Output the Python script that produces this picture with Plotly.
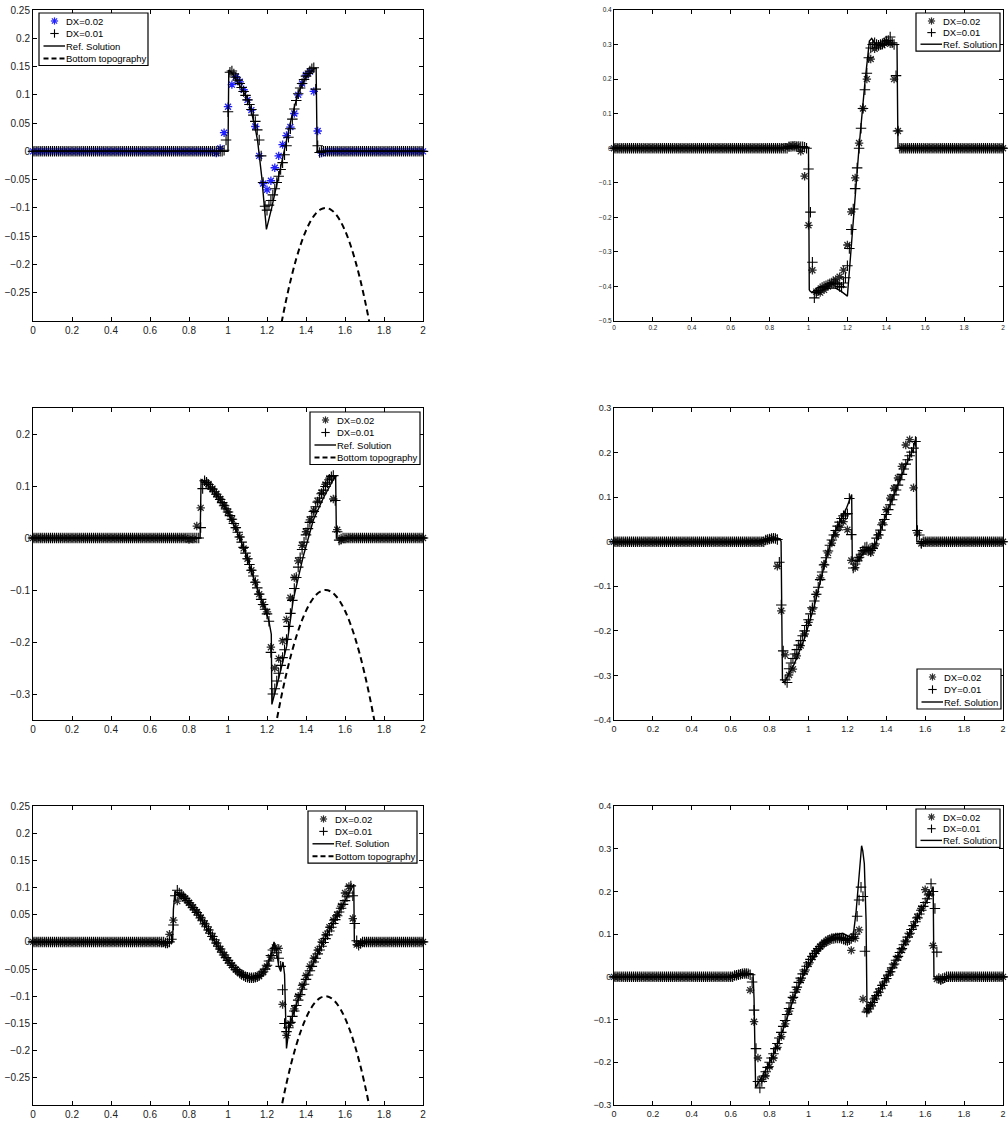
import numpy as np
import plotly.graph_objects as go

FONT = "Liberation Sans, Arial, Helvetica, sans-serif"

# ---------------- common axis data ----------------
X_TICKS = [0, 0.2, 0.4, 0.6, 0.8, 1.0, 1.2, 1.4, 1.6, 1.8, 2.0]
X_TICKTEXT = ["0", "0.2", "0.4", "0.6", "0.8", "1", "1.2", "1.4", "1.6", "1.8", "2"]

GRID_02 = np.linspace(0, 2, 101)   # DX = 0.02 sample points
GRID_01 = np.linspace(0, 2, 201)   # DX = 0.01 sample points

# bottom topography
TOPO_X = [1.2, 1.225, 1.25, 1.275, 1.3, 1.325, 1.35, 1.375, 1.4, 1.425, 1.45, 1.475, 1.5,
          1.525, 1.55, 1.575, 1.6, 1.625, 1.65, 1.675, 1.7, 1.725, 1.75, 1.775, 1.8]
TOPO_Y = [-0.46, -0.4025, -0.35, -0.3025, -0.26, -0.2225, -0.19, -0.1625, -0.14, -0.1225, -0.11, -0.1025, -0.1,
          -0.1025, -0.11, -0.1225, -0.14, -0.1625, -0.19, -0.2225, -0.26, -0.3025, -0.35, -0.4025, -0.46]

# ---------------- panel 1 ----------------
P1_DX02_START = 0.94
P1_DX02 = [-0.003, 0.005, 0.033, 0.079, 0.118, 0.132, 0.123, 0.109, 0.091, 0.073,
           0.044, -0.008, -0.057, -0.068, -0.052, -0.029, -0.008, 0.012, 0.028, 0.043,
           0.067, 0.100, 0.120, 0.135, 0.141, 0.106, 0.036, -0.003]
P1_DX01_START = 0.98
P1_DX01 = [0.002, 0.020, 0.070, 0.140, 0.142, 0.137, 0.131, 0.126, 0.120, 0.113,
           0.106, 0.099, 0.091, 0.083, 0.074, 0.064, 0.053, 0.038, 0.020, -0.008,
           -0.055, -0.097, -0.104, -0.095, -0.087, -0.077, -0.066, -0.055, -0.044, -0.032,
           -0.020, -0.006, 0.010, 0.025, 0.040, 0.057, 0.075, 0.090, 0.102, 0.112,
           0.120, 0.127, 0.133, 0.138, 0.142, 0.146, 0.148, 0.110, 0.010, -0.002]
P1_REF_X = [0.0, 1.0, 1.004, 1.02, 1.053, 1.08, 1.104, 1.12, 1.138, 1.152, 1.164, 1.173, 1.18, 1.188,
            1.197, 1.224, 1.258, 1.292, 1.326, 1.36, 1.395, 1.42, 1.446, 1.452, 1.457, 2.0]
P1_REF_Y = [0.0, 0.0, 0.144, 0.139, 0.12, 0.105, 0.091, 0.07, 0.044, 0.018, -0.015, -0.045, -0.073, -0.1,
            -0.138, -0.1, -0.045, 0.005, 0.06, 0.103, 0.129, 0.139, 0.147, 0.147, 0.0, 0.0]

# ---------------- panel 2 ----------------
P2_DX02_START = 0.88
P2_DX02 = [0.003, 0.005, 0.006, 0.005, -0.009, -0.081, -0.223, -0.353, -0.415, -0.418,
           -0.410, -0.400, -0.390, -0.380, -0.372, -0.353, -0.280, -0.184, -0.086, 0.015,
           0.115, 0.200, 0.258, 0.288, 0.295, 0.298, 0.310, 0.302, 0.200, 0.050,
           0.0]
P2_DX01_START = 0.90
P2_DX01 = [0.004, 0.005, 0.006, 0.006, 0.005, 0.005, 0.004, 0.004, 0.003, 0.000,
           -0.060, -0.185, -0.330, -0.433, -0.418, -0.412, -0.407, -0.403, -0.400, -0.398,
           -0.395, -0.392, -0.390, -0.390, -0.392, -0.395, -0.400, -0.402, -0.390, -0.375,
           -0.340, -0.290, -0.235, -0.176, -0.117, -0.057, 0.000, 0.058, 0.115, 0.169,
           0.217, 0.262, 0.290, 0.300, 0.305, 0.300, 0.298, 0.300, 0.302, 0.305,
           0.310, 0.312, 0.322, 0.305, 0.300, 0.210, 0.050, 0.000]
P2_REF_X = [0.0, 0.9, 0.95, 0.995, 1.0, 1.004, 1.01, 1.03, 1.06, 1.1, 1.14, 1.17, 1.2, 1.23,
            1.261, 1.29, 1.313, 1.325, 1.34, 1.36, 1.4, 1.455, 1.46, 2.0]
P2_REF_Y = [0.0, 0.0, 0.003, 0.004, 0.0, -0.41, -0.415, -0.417, -0.412, -0.405, -0.405, -0.415, -0.428, -0.2,
            0.01, 0.19, 0.31, 0.318, 0.305, 0.298, 0.3, 0.3, 0.0, 0.0]

# ---------------- panel 3 ----------------
P3_DX02_START = 0.80
P3_DX02 = [-0.003, -0.002, 0.023, 0.058, 0.108, 0.104, 0.095, 0.085, 0.075, 0.063,
           0.050, 0.036, 0.020, 0.002, -0.020, -0.040, -0.062, -0.085, -0.108, -0.128,
           -0.142, -0.210, -0.250, -0.232, -0.198, -0.157, -0.115, -0.076, -0.044, -0.014,
           0.012, 0.035, 0.053, 0.071, 0.087, 0.103, 0.115, 0.075, 0.016, -0.004,
           -0.002]
P3_DX01_START = 0.84
P3_DX01 = [0.000, 0.000, 0.020, 0.095, 0.110, 0.107, 0.103, 0.098, 0.094, 0.089,
           0.084, 0.079, 0.074, 0.068, 0.062, 0.056, 0.050, 0.043, 0.036, 0.028,
           0.020, 0.011, 0.002, -0.008, -0.018, -0.029, -0.040, -0.051, -0.062, -0.073,
           -0.085, -0.096, -0.108, -0.118, -0.128, -0.137, -0.146, -0.160, -0.220, -0.300,
           -0.290, -0.275, -0.260, -0.245, -0.230, -0.215, -0.195, -0.170, -0.145, -0.120,
           -0.097, -0.076, -0.056, -0.038, -0.022, -0.008, 0.006, 0.018, 0.030, 0.041,
           0.051, 0.060, 0.069, 0.077, 0.085, 0.092, 0.099, 0.106, 0.112, 0.118,
           0.120, 0.072, 0.012, -0.004, -0.002]
P3_REF_X = [0.0, 0.857, 0.862, 0.88, 0.942, 1.0, 1.06, 1.096, 1.13, 1.164, 1.19, 1.21, 1.222, 1.225,
            1.26, 1.301, 1.335, 1.386, 1.438, 1.489, 1.54, 1.552, 1.556, 2.0]
P3_REF_Y = [0.0, 0.0, 0.112, 0.108, 0.083, 0.05, 0.0, -0.035, -0.075, -0.112, -0.135, -0.16, -0.185, -0.32,
            -0.27, -0.208, -0.118, -0.035, 0.035, 0.077, 0.112, 0.12, 0.0, 0.0]

# ---------------- panel 4 ----------------
P4_DX02_START = 0.78
P4_DX02 = [0.004, 0.006, 0.008, -0.055, -0.155, -0.254, -0.299, -0.286, -0.256, -0.233,
           -0.207, -0.181, -0.151, -0.118, -0.081, -0.051, -0.025, -0.003, 0.016, 0.032,
           0.045, 0.027, -0.042, -0.058, -0.036, -0.021, -0.021, -0.025, -0.009, 0.016,
           0.042, 0.072, 0.098, 0.120, 0.143, 0.169, 0.217, 0.229, 0.121, 0.020,
           -0.004]
P4_DX01_START = 0.78
P4_DX01 = [0.004, 0.005, 0.006, 0.007, 0.008, 0.007, 0.005, -0.046, -0.142, -0.245,
           -0.310, -0.316, -0.285, -0.272, -0.262, -0.252, -0.242, -0.232, -0.222, -0.211,
           -0.200, -0.188, -0.175, -0.162, -0.148, -0.133, -0.118, -0.102, -0.085, -0.068,
           -0.052, -0.036, -0.021, -0.008, 0.004, 0.015, 0.025, 0.035, 0.044, 0.052,
           0.058, 0.062, 0.063, 0.097, 0.016, -0.059, -0.050, -0.043, -0.035, -0.028,
           -0.020, -0.013, -0.012, -0.018, -0.020, -0.015, -0.005, 0.008, 0.015, 0.026,
           0.038, 0.050, 0.061, 0.072, 0.083, 0.094, 0.105, 0.116, 0.127, 0.139,
           0.151, 0.163, 0.174, 0.184, 0.193, 0.201, 0.210, 0.225, 0.025, 0.015,
           -0.004]
P4_REF_X = [0.0, 0.6, 0.8, 0.855, 0.859, 0.866, 0.875, 0.927, 0.979, 1.03, 1.081, 1.124, 1.167, 1.195,
            1.222, 1.225, 1.25, 1.275, 1.3, 1.32, 1.347, 1.39, 1.441, 1.493, 1.536, 1.553, 1.557, 2.0]
P4_REF_Y = [0.0, 0.0, 0.003, 0.005, 0.0, -0.31, -0.316, -0.274, -0.218, -0.144, -0.054, 0.012, 0.05, 0.075,
            0.106, -0.04, -0.045, -0.03, -0.015, -0.02, -0.002, 0.05, 0.106, 0.165, 0.205, 0.235, 0.0, 0.0]

# ---------------- panel 5 ----------------
P5_DX02_START = 0.66
P5_DX02 = [-0.002, -0.003, 0.014, 0.040, 0.075, 0.085, 0.080, 0.072, 0.064, 0.055,
           0.045, 0.034, 0.022, 0.010, -0.002, -0.013, -0.024, -0.034, -0.043, -0.051,
           -0.057, -0.062, -0.065, -0.066, -0.066, -0.063, -0.056, -0.045, -0.028, -0.010,
           -0.012, -0.115, -0.172, -0.150, -0.123, -0.100, -0.080, -0.062, -0.045, -0.030,
           -0.015, 0.000, 0.013, 0.027, 0.040, 0.050, 0.066, 0.090, 0.102, 0.043,
           -0.005, -0.003]
P5_DX01_START = 0.68
P5_DX01 = [-0.002, -0.002, 0.000, 0.005, 0.031, 0.085, 0.095, 0.090, 0.087, 0.084,
           0.080, 0.076, 0.072, 0.068, 0.063, 0.059, 0.054, 0.049, 0.044, 0.039,
           0.033, 0.028, 0.022, 0.016, 0.010, 0.004, -0.002, -0.008, -0.013, -0.019,
           -0.024, -0.029, -0.034, -0.039, -0.043, -0.047, -0.051, -0.054, -0.057, -0.060,
           -0.062, -0.064, -0.065, -0.066, -0.066, -0.066, -0.065, -0.064, -0.062, -0.059,
           -0.055, -0.050, -0.043, -0.035, -0.025, -0.015, -0.012, -0.020, -0.030, -0.045,
           -0.088, -0.150, -0.165, -0.158, -0.148, -0.137, -0.127, -0.117, -0.107, -0.097,
           -0.087, -0.078, -0.069, -0.061, -0.053, -0.045, -0.037, -0.030, -0.022, -0.015,
           -0.008, -0.001, 0.006, 0.013, 0.020, 0.027, 0.034, 0.041, 0.048, 0.055,
           0.062, 0.069, 0.076, 0.083, 0.090, 0.103, 0.085, 0.034, 0.002, -0.006,
           -0.003]
P5_REF_X = [0.0, 0.716, 0.72, 0.728, 0.75, 0.771, 0.81, 0.856, 0.9, 0.942, 0.985, 1.027, 1.07, 1.113,
            1.14, 1.164, 1.185, 1.205, 1.224, 1.236, 1.248, 1.26, 1.27, 1.282, 1.29, 1.294, 1.3, 1.315,
            1.35, 1.4, 1.45, 1.5, 1.55, 1.6, 1.645, 1.648, 2.0]
P5_REF_Y = [0.0, 0.0, 0.06, 0.092, 0.09, 0.083, 0.067, 0.046, 0.02, -0.006, -0.028, -0.046, -0.058, -0.066,
            -0.066, -0.062, -0.053, -0.04, -0.02, 0.0, -0.015, -0.045, -0.054, -0.037, -0.06, -0.1, -0.196, -0.155,
            -0.115, -0.068, -0.03, 0.008, 0.042, 0.076, 0.106, 0.0, 0.0]

# ---------------- panel 6 ----------------
P6_DX02_START = 0.62
P6_DX02 = [0.003, 0.005, 0.008, 0.008, -0.031, -0.105, -0.190, -0.240, -0.232, -0.210,
           -0.190, -0.165, -0.140, -0.110, -0.080, -0.050, -0.030, -0.008, 0.012, 0.030,
           0.046, 0.060, 0.071, 0.080, 0.087, 0.091, 0.092, 0.092, 0.090, 0.085,
           0.062, 0.090, 0.110, -0.052, -0.078, -0.065, -0.050, -0.035, -0.020, -0.004,
           0.012, 0.028, 0.045, 0.063, 0.082, 0.100, 0.120, 0.140, 0.160, 0.204,
           0.195, 0.073, -0.005, -0.008, -0.004]
P6_DX01_START = 0.62
P6_DX01 = [0.003, 0.004, 0.005, 0.006, 0.007, 0.008, 0.008, 0.007, 0.005, -0.012,
           -0.078, -0.168, -0.245, -0.260, -0.245, -0.232, -0.222, -0.212, -0.200, -0.190,
           -0.180, -0.168, -0.156, -0.143, -0.130, -0.116, -0.102, -0.088, -0.074, -0.061,
           -0.048, -0.036, -0.024, -0.013, -0.003, 0.007, 0.016, 0.025, 0.033, 0.041,
           0.048, 0.055, 0.061, 0.066, 0.071, 0.075, 0.079, 0.082, 0.085, 0.087,
           0.089, 0.090, 0.091, 0.091, 0.091, 0.090, 0.088, 0.086, 0.085, 0.087,
           0.090, 0.094, 0.100, 0.142, 0.180, 0.210, 0.188, 0.060, -0.082, -0.075,
           -0.068, -0.060, -0.052, -0.044, -0.036, -0.028, -0.020, -0.012, -0.004, 0.004,
           0.012, 0.021, 0.030, 0.039, 0.048, 0.057, 0.066, 0.075, 0.084, 0.093,
           0.102, 0.111, 0.120, 0.129, 0.138, 0.147, 0.156, 0.165, 0.174, 0.183,
           0.192, 0.218, 0.200, 0.160, 0.058, -0.004, -0.006, -0.004, -0.002]
P6_REF_X = [0.0, 0.6, 0.68, 0.715, 0.72, 0.728, 0.773, 0.825, 0.876, 0.928, 0.979, 1.03, 1.082, 1.133,
            1.176, 1.21, 1.228, 1.244, 1.261, 1.268, 1.273, 1.279, 1.287, 1.296, 1.301, 1.35, 1.4, 1.45,
            1.5, 1.55, 1.6, 1.641, 1.645, 2.0]
P6_REF_Y = [0.0, 0.0, 0.006, 0.006, -0.05, -0.259, -0.224, -0.177, -0.115, -0.045, 0.009, 0.048, 0.079, 0.098,
            0.102, 0.094, 0.09, 0.149, 0.25, 0.29, 0.307, 0.295, 0.265, 0.133, -0.085, -0.045, -0.005, 0.04,
            0.085, 0.13, 0.17, 0.21, 0.0, 0.0]

# ---------------- y-axis ticks ----------------
M = "\u2212"
Y_TICKS_A = [-0.25, -0.2, -0.15, -0.1, -0.05, 0, 0.05, 0.1, 0.15, 0.2, 0.25]
Y_TEXT_A = [M + "0.25", M + "0.2", M + "0.15", M + "0.1", M + "0.05", "0", "0.05", "0.1", "0.15", "0.2", "0.25"]
Y_TICKS_B = [-0.5, -0.4, -0.3, -0.2, -0.1, 0, 0.1, 0.2, 0.3, 0.4]
Y_TEXT_B = [M + "0.5", M + "0.4", M + "0.3", M + "0.2", M + "0.1", "0", "0.1", "0.2", "0.3", "0.4"]
Y_TICKS_C = [-0.3, -0.2, -0.1, 0, 0.1, 0.2]
Y_TEXT_C = [M + "0.3", M + "0.2", M + "0.1", "0", "0.1", "0.2"]
Y_TICKS_D = [-0.4, -0.3, -0.2, -0.1, 0, 0.1, 0.2, 0.3]
Y_TEXT_D = [M + "0.4", M + "0.3", M + "0.2", M + "0.1", "0", "0.1", "0.2", "0.3"]
Y_TICKS_E = [-0.3, -0.2, -0.1, 0, 0.1, 0.2, 0.3, 0.4]
Y_TEXT_E = [M + "0.3", M + "0.2", M + "0.1", "0", "0.1", "0.2", "0.3", "0.4"]

NAMES = ["DX=0.02", "DX=0.01", "Ref. Solution", "Bottom topography"]
NAMES_P4 = ["DX=0.02", "DY=0.01", "Ref. Solution"]


def full_series(start, values, step, n):
    i0 = int(round(start / step))
    vals = [0.0] * i0 + list(values)
    return (vals + [0.0] * (n - len(vals)))[:n]


# layout geometry (page pixels -> paper fractions)
W, H = 1008, 1130
SH = -4   # right column nudged left so its last tick label stays on the page
LEFT = [33 / W, 423 / W]
RIGHT = [(618 + SH) / W, (1007 + SH) / W]
ROW1 = [1 - 321 / H, 1 - 10 / H]
ROW2 = [1 - 720 / H, 1 - 408 / H]
ROW3 = [1 - 1105 / H, 1 - 806 / H]


def px(xp):
    return xp / W


def py(yp):
    return 1 - yp / H


panels = [
    dict(xd=LEFT, yd=ROW1, yr=[-0.3, 0.25], yt=(Y_TICKS_A, Y_TEXT_A), fs=10, c02="#1f1fff",
         d02=(P1_DX02_START, P1_DX02), d01=(P1_DX01_START, P1_DX01), ref=(P1_REF_X, P1_REF_Y), topo=True,
         names=NAMES, box=(39, 13, 109, 12.5)),
    dict(xd=RIGHT, yd=ROW1, yr=[-0.5, 0.4], yt=(Y_TICKS_B, Y_TEXT_B), fs=6.5, c02="#2a2a2a",
         d02=(P2_DX02_START, P2_DX02), d01=(P2_DX01_START, P2_DX01), ref=(P2_REF_X, P2_REF_Y), topo=False,
         names=NAMES, box=(920 + SH, 13, 84, 11.6)),
    dict(xd=LEFT, yd=ROW2, yr=[-0.35, 0.25], yt=(Y_TICKS_C, Y_TEXT_C), fs=10, c02="#2a2a2a",
         d02=(P3_DX02_START, P3_DX02), d01=(P3_DX01_START, P3_DX01), ref=(P3_REF_X, P3_REF_Y), topo=True,
         names=NAMES, box=(310, 412, 110, 12.5)),
    dict(xd=RIGHT, yd=ROW2, yr=[-0.4, 0.3], yt=(Y_TICKS_D, Y_TEXT_D), fs=9, c02="#2a2a2a",
         d02=(P4_DX02_START, P4_DX02), d01=(P4_DX01_START, P4_DX01), ref=(P4_REF_X, P4_REF_Y), topo=False,
         names=NAMES_P4, box=(921 + SH, 669, 84, 12.5)),
    dict(xd=LEFT, yd=ROW3, yr=[-0.3, 0.25], yt=(Y_TICKS_A, Y_TEXT_A), fs=10, c02="#2a2a2a",
         d02=(P5_DX02_START, P5_DX02), d01=(P5_DX01_START, P5_DX01), ref=(P5_REF_X, P5_REF_Y), topo=True,
         names=NAMES, box=(308, 811, 109, 12.4)),
    dict(xd=RIGHT, yd=ROW3, yr=[-0.3, 0.4], yt=(Y_TICKS_E, Y_TEXT_E), fs=9, c02="#2a2a2a",
         d02=(P6_DX02_START, P6_DX02), d01=(P6_DX01_START, P6_DX01), ref=(P6_REF_X, P6_REF_Y), topo=False,
         names=NAMES, box=(920 + SH, 809, 84, 11.7)),
]

shapes, annotations = [], []


def seg(x0, y0, x1, y1, color="black", width=1.1, dash="solid"):
    shapes.append(dict(type="line", xref="paper", yref="paper", layer="above",
                       x0=px(x0), y0=py(y0), x1=px(x1), y1=py(y1),
                       line=dict(color=color, width=width, dash=dash)))


def draw_key(p):
    """Boxed MATLAB-style key drawn in paper space."""
    left, top, width, rowh = p["box"]
    n = 4 if p["topo"] else 3
    height = 8 + rowh * (n - 1) + 7
    shapes.append(dict(type="rect", xref="paper", yref="paper", layer="above",
                       x0=px(left), y0=py(top), x1=px(left + width), y1=py(top + height),
                       fillcolor="white", line=dict(color="black", width=1.2)))
    cx = left + 15.5
    for k in range(n):
        cy = top + 8 + rowh * k
        if k == 0:      # asterisk
            r, d = 3.6, 2.6
            c = p["c02"]
            seg(cx - r, cy, cx + r, cy, c, 1.2)
            seg(cx, cy - r, cx, cy + r, c, 1.2)
            seg(cx - d, cy - d, cx + d, cy + d, c, 1.2)
            seg(cx - d, cy + d, cx + d, cy - d, c, 1.2)
        elif k == 1:    # plus
            r = 4.2
            seg(cx - r, cy, cx + r, cy)
            seg(cx, cy - r, cx, cy + r)
        elif k == 2:    # solid line
            seg(left + 4.5, cy, left + 26, cy, width=1.4)
        else:           # dashed line
            seg(left + 4.5, cy, left + 26, cy, width=2, dash="5px,3px")
        annotations.append(dict(xref="paper", yref="paper", x=px(left + 26), y=py(cy),
                                xanchor="left", yanchor="middle", showarrow=False,
                                text=p["names"][k], borderpad=0,
                                font=dict(family=FONT, size=9.5, color="black")))


fig = go.Figure()
layout = dict(width=W, height=H, margin=dict(l=0, r=0, t=0, b=0),
              paper_bgcolor="white", plot_bgcolor="white", template="none",
              font=dict(family=FONT, color="#111"), showlegend=False)

for i, p in enumerate(panels, start=1):
    sfx = "" if i == 1 else str(i)
    xa, ya = "x" + sfx, "y" + sfx
    y02 = full_series(p["d02"][0], p["d02"][1], 0.02, len(GRID_02))
    y01 = full_series(p["d01"][0], p["d01"][1], 0.01, len(GRID_01))
    fig.add_trace(go.Scatter(
        x=GRID_02, y=y02, mode="markers", name=p["names"][0], xaxis=xa, yaxis=ya,
        cliponaxis=False,
        marker=dict(symbol="asterisk-open", size=7, color=p["c02"],
                    line=dict(width=1.3, color=p["c02"]))))
    fig.add_trace(go.Scatter(
        x=GRID_01, y=y01, mode="markers", name=p["names"][1], xaxis=xa, yaxis=ya,
        cliponaxis=False,
        marker=dict(symbol="cross-thin-open", size=7.5, color="black",
                    line=dict(width=1.1, color="black"))))
    fig.add_trace(go.Scatter(
        x=p["ref"][0], y=p["ref"][1], mode="lines", name=p["names"][2], xaxis=xa, yaxis=ya,
        line=dict(color="black", width=1.4)))
    if p["topo"]:
        fig.add_trace(go.Scatter(
            x=TOPO_X, y=TOPO_Y, mode="lines", name=p["names"][3], xaxis=xa, yaxis=ya,
            line=dict(color="black", width=2, dash="6px,4px", shape="spline")))

    tickfont = dict(family=FONT, size=p["fs"], color="#222")
    common = dict(ticks="inside", ticklen=4, tickwidth=1, tickcolor="black", showline=True,
                  linecolor="black", linewidth=1, mirror="ticks", showgrid=False, zeroline=False,
                  tickfont=tickfont, automargin=False, fixedrange=True, ticklabeloverflow="allow")
    layout["xaxis" + sfx] = dict(domain=p["xd"], anchor=ya, range=[0, 2], tickmode="array",
                                 tickvals=X_TICKS, ticktext=X_TICKTEXT, **common)
    layout["yaxis" + sfx] = dict(domain=p["yd"], anchor=xa, range=p["yr"], tickmode="array",
                                 tickvals=p["yt"][0], ticktext=p["yt"][1], **common)
    draw_key(p)

layout["shapes"] = shapes
layout["annotations"] = annotations
fig.update_layout(**layout)
fig.write_html("out.html", config={"displayModeBar": False},
               post_script="document.body.style.margin='0';")
